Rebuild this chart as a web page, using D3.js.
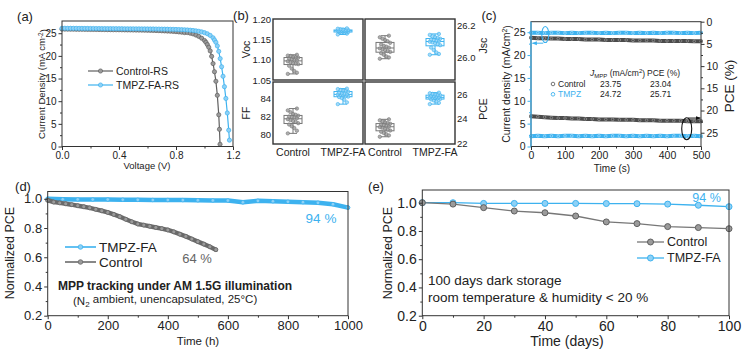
<!DOCTYPE html>
<html>
<head>
<meta charset="utf-8">
<script src="https://cdn.jsdelivr.net/npm/d3@7"></script>
<style>
  body { margin: 0; background: #fff; }
  svg text { font-family: "Liberation Sans", Arial, sans-serif; }
</style>
</head>
<body>
<svg id="fig" width="744" height="354"></svg>
<script>
// ---------- data ----------
// (a) J-V curves, [voltage V, current density mA/cm2]
const jvControl = [[0,25.90],[0.02,25.90],[0.04,25.89],[0.06,25.88],[0.08,25.88],[0.10,25.87],[0.12,25.86],[0.14,25.86],[0.16,25.85],[0.18,25.84],[0.20,25.83],[0.22,25.83],[0.24,25.82],[0.26,25.81],[0.28,25.80],[0.30,25.80],[0.32,25.79],[0.34,25.78],[0.36,25.77],[0.38,25.77],[0.40,25.76],[0.42,25.75],[0.44,25.74],[0.46,25.73],[0.48,25.72],[0.50,25.71],[0.52,25.70],[0.54,25.69],[0.56,25.68],[0.58,25.66],[0.60,25.65],[0.62,25.63],[0.64,25.61],[0.66,25.59],[0.68,25.57],[0.70,25.54],[0.72,25.51],[0.74,25.48],[0.76,25.44],[0.78,25.40],[0.80,25.35],[0.82,25.29],[0.84,25.22],[0.86,25.14],[0.88,25.15],[0.90,25.00],[0.92,24.85],[0.94,24.60],[0.96,24.30],[0.98,23.90],[1.00,23.40],[1.01,23.00],[1.02,22.50],[1.03,21.90],[1.04,21.10],[1.05,19.90],[1.06,18.30],[1.07,16.50],[1.08,14.40],[1.09,11.30],[1.10,7.00],[1.105,3.80],[1.109,0.50]];
const jvTmpz = [[0,26.10],[0.02,26.10],[0.04,26.09],[0.06,26.09],[0.08,26.08],[0.10,26.08],[0.12,26.07],[0.14,26.07],[0.16,26.06],[0.18,26.06],[0.20,26.05],[0.22,26.05],[0.24,26.04],[0.26,26.04],[0.28,26.03],[0.30,26.03],[0.32,26.02],[0.34,26.02],[0.36,26.01],[0.38,26.01],[0.40,26.00],[0.42,26.00],[0.44,25.99],[0.46,25.99],[0.48,25.98],[0.50,25.98],[0.52,25.97],[0.54,25.97],[0.56,25.96],[0.58,25.96],[0.60,25.95],[0.62,25.94],[0.64,25.94],[0.66,25.93],[0.68,25.92],[0.70,25.91],[0.72,25.90],[0.74,25.89],[0.76,25.87],[0.78,25.86],[0.80,25.84],[0.82,25.82],[0.84,25.79],[0.86,25.76],[0.88,25.72],[0.90,25.67],[0.92,25.61],[0.94,25.53],[0.96,25.43],[0.98,25.30],[1.00,25.12],[1.02,24.88],[1.04,24.52],[1.06,24.00],[1.07,23.50],[1.08,23.00],[1.09,22.20],[1.10,21.00],[1.11,19.40],[1.12,17.60],[1.13,15.50],[1.14,13.20],[1.15,10.60],[1.16,7.40],[1.17,3.60],[1.175,1.40]];

// (b) device statistics
const bGroups = ["Control", "TMPZ-FA"];
const vocControl = [1.065,1.068,1.072,1.078,1.085,1.089,1.090,1.091,1.094,1.096,1.098,1.099,1.101,1.103,1.105,1.106,1.107,1.109,1.110,1.112];
const vocTmpz = [1.162,1.164,1.166,1.167,1.168,1.168,1.169,1.170,1.170,1.171,1.171,1.171,1.172,1.172,1.173,1.173,1.174,1.175,1.176,1.177];
const jscControl = [25.99,25.998,26.005,26.015,26.025,26.033,26.038,26.045,26.05,26.055,26.06,26.066,26.072,26.08,26.09,26.1,26.108,26.116,26.125,26.135];
const jscTmpz = [26.015,26.02,26.03,26.045,26.06,26.075,26.082,26.088,26.093,26.097,26.1,26.104,26.108,26.112,26.116,26.12,26.126,26.132,26.14,26.146];
const ffControl = [80.1,80.4,80.7,80.9,81.1,81.25,81.4,81.5,81.6,81.7,81.8,81.9,81.95,82.0,82.1,82.2,82.3,82.5,82.7,82.9];
const ffTmpz = [83.4,83.6,83.9,84.1,84.2,84.25,84.3,84.4,84.45,84.5,84.5,84.55,84.6,84.7,84.8,84.9,84.95,85.0,85.1,85.15];
const pceControl = [22.54,22.65,22.75,22.85,22.95,23.05,23.12,23.2,23.28,23.33,23.38,23.44,23.5,23.55,23.6,23.65,23.72,23.8,23.88,23.96];
const pceTmpz = [25.2,25.3,25.42,25.5,25.58,25.62,25.66,25.7,25.72,25.74,25.76,25.8,25.84,25.88,25.92,25.95,25.99,26.03,26.08,26.13];

// (c) MPP tracking, time (s)
const mppTime = [0,20,40,60,80,100,120,140,160,180,200,220,240,260,280,300,320,340,360,380,400,420,440,460,480,500];
const mppJControl = [23.8,23.7,23.7,23.6,23.6,23.5,23.5,23.5,23.4,23.4,23.4,23.3,23.3,23.3,23.3,23.2,23.2,23.2,23.2,23.1,23.1,23.1,23.1,23.1,23.0,23.0];
const mppJTmpz = [24.9,24.9,24.8,24.9,24.9,24.8,24.9,24.8,24.9,24.9,24.8,24.9,24.8,24.9,24.9,24.8,24.9,24.8,24.9,24.8,24.9,24.9,24.8,24.9,24.8,24.9];
const mppPceControl = [21.3,21.4,21.5,21.6,21.7,21.7,21.8,21.8,21.9,21.9,22.0,22.0,22.0,22.1,22.1,22.1,22.2,22.2,22.2,22.3,22.3,22.3,22.3,22.4,22.4,22.4];
const mppPceTmpz = [25.8,25.7,25.8,25.7,25.8,25.7,25.7,25.8,25.7,25.8,25.7,25.8,25.7,25.7,25.8,25.7,25.8,25.7,25.8,25.7,25.8,25.7,25.7,25.8,25.7,25.8];
const mppLegend = [["Control", "23.75", "23.04"], ["TMPZ", "24.72", "25.71"]];

// (d) long-term MPP tracking, [hours, normalized PCE]
const trackTmpz = [[0,1.0],[50,0.997],[100,0.996],[150,0.995],[200,0.995],[250,0.994],[300,0.993],[350,0.992],[400,0.992],[450,0.991],[500,0.99],[550,0.989],[600,0.988],[650,0.976],[700,0.986],[750,0.983],[800,0.98],[850,0.977],[900,0.973],[950,0.963],[1000,0.94]];
const trackControl = [[0,0.99],[20,0.978],[40,0.972],[60,0.966],[80,0.96],[100,0.953],[120,0.946],[140,0.938],[160,0.928],[180,0.918],[200,0.907],[220,0.893],[240,0.878],[260,0.86],[280,0.843],[300,0.828],[320,0.82],[340,0.812],[360,0.804],[380,0.796],[400,0.787],[420,0.774],[440,0.758],[460,0.743],[480,0.725],[500,0.707],[520,0.69],[540,0.672],[560,0.652]];

// (e) dark storage
const storageDays = [0,10,20,30,40,50,60,70,80,90,100];
const storageControl = [1.0,0.99,0.965,0.941,0.929,0.906,0.864,0.852,0.831,0.824,0.816];
const storageTmpz = [1.0,1.0,0.995,0.995,0.995,0.995,0.994,0.993,0.99,0.982,0.972];

// ---------- helpers ----------
const BLUE = "#3db2ef", BLUE_F = "#8ed1f6", GRAY = "#5f5f5f", GRAY_F = "#9b9b9b", INK = "#222", EDGE = "#333";
const svg = d3.select("#fig");

const defs = svg.append("defs");
[["arrBlue", BLUE], ["arrBlack", "#111"]].forEach(([id, c]) => {
  defs.append("marker").attr("id", id).attr("viewBox", "0 0 10 10").attr("refX", 9).attr("refY", 5)
    .attr("markerWidth", 5).attr("markerHeight", 5).attr("orient", "auto")
    .append("path").attr("d", "M0,1L10,5L0,9Z").attr("fill", c);
});

function frame(x, y, w) {
  const [x0, x1] = x.range(), yr = y.range();
  svg.append("rect").attr("x", x0).attr("y", Math.min(...yr))
    .attr("width", x1 - x0).attr("height", Math.abs(yr[1] - yr[0]))
    .attr("fill", "none").attr("stroke", EDGE).attr("stroke-width", w || 1);
}

function axis(kind, scale, at, major, minor, fmt, size, color, tick) {
  const make = { bottom: d3.axisBottom, left: d3.axisLeft, right: d3.axisRight }[kind];
  const tr = kind === "bottom" ? `translate(0,${at})` : `translate(${at},0)`;
  const col = color || EDGE;
  if (minor) {
    const m = svg.append("g").attr("transform", tr)
      .call(make(scale).tickValues(minor).tickSize(2).tickFormat(""));
    m.select(".domain").remove();
    m.selectAll("line").attr("stroke", col);
  }
  const g = svg.append("g").attr("transform", tr)
    .call(make(scale).tickValues(major).tickSize(tick === undefined ? 3.5 : tick).tickPadding(2).tickFormat(fmt));
  g.select(".domain").remove();
  g.selectAll("line").attr("stroke", col);
  g.selectAll("text").attr("fill", INK).style("font-size", size + "px")
    .style("font-family", '"Liberation Sans", Arial, sans-serif');
  return g;
}

function text(x, y, str, size, o = {}) {
  const t = svg.append("text").attr("x", x).attr("y", y).attr("dy", "0.35em")
    .attr("text-anchor", o.anchor || "middle").attr("fill", o.fill || INK)
    .style("font-size", size + "px");
  if (o.bold) t.style("font-weight", "bold");
  if (o.rotate) t.attr("transform", `rotate(${o.rotate},${x},${y})`);
  if (str !== null) t.text(str);
  return t;
}

function seriesLine(pts, x, y, color, width) {
  svg.append("path").datum(pts)
    .attr("d", d3.line().x(d => x(d[0])).y(d => y(d[1])))
    .attr("fill", "none").attr("stroke", color).attr("stroke-width", width)
    .attr("stroke-linejoin", "round").attr("stroke-linecap", "round");
}

function seriesDots(pts, x, y, fill, stroke, r, sw) {
  svg.append("g").selectAll("circle").data(pts).join("circle")
    .attr("cx", d => x(d[0])).attr("cy", d => y(d[1])).attr("r", r)
    .attr("fill", fill).attr("stroke", stroke).attr("stroke-width", sw || 0.8);
}

const zip = (a, b) => a.map((v, i) => [v, b[i]]);

// ---------- (a) J-V ----------
{
  const x = d3.scaleLinear().domain([0, 1.2]).range([62, 233]);
  const y = d3.scaleLinear().domain([0, 27.7]).range([146.5, 21]);
  seriesLine(jvControl, x, y, GRAY, 1.2);
  seriesDots(jvControl, x, y, GRAY_F, GRAY, 2.1, 0.7);
  seriesLine(jvTmpz, x, y, BLUE, 1.2);
  seriesDots(jvTmpz, x, y, BLUE_F, BLUE, 2.1, 0.7);
  frame(x, y);
  axis("bottom", x, 146.5, [0, 0.4, 0.8, 1.2], [0.2, 0.6, 1.0], d3.format(".1f"), 10);
  axis("left", y, 62, [0, 5, 10, 15, 20, 25], [2.5, 7.5, 12.5, 17.5, 22.5], d3.format("d"), 10);
  text(147, 165.5, "Voltage (V)", 9.5);
  const t = text(42, 84, null, 9.5, { rotate: -90 });
  t.append("tspan").text("Current Density (mA cm");
  t.append("tspan").attr("dy", "-0.4em").style("font-size", "6.5px").text("-2");
  t.append("tspan").attr("dy", "0.4em").text(")");
  text(25, 16, "(a)", 13);
  // legend
  [["Control-RS", GRAY, GRAY_F, 71], ["TMPZ-FA-RS", BLUE, BLUE_F, 85]].forEach(([name, c, f, ly]) => {
    svg.append("line").attr("x1", 88).attr("x2", 113).attr("y1", ly).attr("y2", ly).attr("stroke", c).attr("stroke-width", 1.2);
    svg.append("circle").attr("cx", 100.5).attr("cy", ly).attr("r", 2.1).attr("fill", f).attr("stroke", c).attr("stroke-width", 0.7);
    text(116, ly, name, 10.5, { anchor: "start" });
  });
}

// ---------- (b) box plots ----------
{
  const cols = [[273, 363], [365, 455]];
  const rows = [[80, 19], [144, 82]];
  const panels = [
    { c: 0, r: 0, dom: [1.05, 1.20], ticks: [1.05, 1.10, 1.15, 1.20], fmt: ".2f", name: "Voc", sets: [vocControl, vocTmpz] },
    { c: 1, r: 0, dom: [25.856, 26.24], ticks: [26.0, 26.2], fmt: ".1f", name: "Jsc", sets: [jscControl, jscTmpz] },
    { c: 0, r: 1, dom: [78.9, 85.9], ticks: [80, 82, 84], fmt: "d", name: "FF", sets: [ffControl, ffTmpz] },
    { c: 1, r: 1, dom: [21.95, 27.0], ticks: [22, 24, 26], fmt: "d", name: "PCE", sets: [pceControl, pceTmpz] }
  ];
  panels.forEach(p => {
    const x = d3.scalePoint().domain(bGroups).range(cols[p.c]).padding(0.4);
    const y = d3.scaleLinear().domain(p.dom).range(rows[p.r]);
    p.sets.forEach((vals, gi) => {
      const s = vals.slice().sort(d3.ascending);
      const cx = x(bGroups[gi]);
      const col = gi ? BLUE : "#777";
      const q1 = d3.quantile(s, 0.25), md = d3.quantile(s, 0.5), q3 = d3.quantile(s, 0.75);
      const g = svg.append("g").attr("stroke", col).attr("fill", "none").attr("stroke-width", 1);
      g.append("line").attr("x1", cx).attr("x2", cx).attr("y1", y(s[0])).attr("y2", y(q1));
      g.append("line").attr("x1", cx).attr("x2", cx).attr("y1", y(q3)).attr("y2", y(s[s.length - 1]));
      [s[0], s[s.length - 1]].forEach(v => g.append("line").attr("x1", cx - 4).attr("x2", cx + 4).attr("y1", y(v)).attr("y2", y(v)));
      g.append("rect").attr("x", cx - 9).attr("width", 18).attr("y", y(q3)).attr("height", y(q1) - y(q3));
      g.append("line").attr("x1", cx - 9).attr("x2", cx + 9).attr("y1", y(md)).attr("y2", y(md));
      svg.append("g").selectAll("circle").data(vals).join("circle")
        .attr("cx", (d, i) => cx + ((i * 7) % 9 - 4) * 1.3)
        .attr("cy", d => y(d)).attr("r", 1.7)
        .attr("fill", gi ? BLUE_F : GRAY_F).attr("fill-opacity", 0.8)
        .attr("stroke", col).attr("stroke-width", 0.6);
    });
    frame(x, y, 1.4);
    if (p.c === 0) {
      axis("left", y, cols[0][0], p.ticks, null, d3.format(p.fmt), 9.5, null, 0);
      text(246, (rows[p.r][0] + rows[p.r][1]) / 2, p.name, 10.5, { rotate: -90 });
    } else {
      axis("right", y, cols[1][1], p.ticks, null, d3.format(p.fmt), 9.5, null, 0);
      text(483, (rows[p.r][0] + rows[p.r][1]) / 2 - 4, p.name, 10.5, { rotate: -90 });
    }
    if (p.r === 1) bGroups.forEach(gname => text(x(gname), 152, gname, 10.5));
  });
  text(241, 15, "(b)", 13);
}

// ---------- (c) MPP tracking 500 s ----------
{
  const x = d3.scaleLinear().domain([0, 500]).range([531, 701]);
  const yL = d3.scaleLinear().domain([0, 27.3]).range([146.5, 21.7]);
  const yR = d3.scaleLinear().domain([0, 28.1]).range([21.7, 146.5]);
  const band = (vals, y, c, light) => {
    const pts = zip(mppTime, vals);
    seriesLine(pts, x, y, c, 4);
    seriesDots(pts, x, y, "none", light, 1.3, 0.6);
  };
  band(mppJControl, yL, "#4b4b4b", "#aaa");
  band(mppJTmpz, yL, BLUE, "#bfe6fb");
  band(mppPceControl, yR, "#4b4b4b", "#aaa");
  band(mppPceTmpz, yR, BLUE, "#bfe6fb");
  frame(x, yL);
  svg.append("line").attr("x1", 531).attr("x2", 531).attr("y1", 21.7).attr("y2", 146.5).attr("stroke", BLUE).attr("stroke-width", 1.2);
  axis("bottom", x, 146.5, [0, 100, 200, 300, 400, 500], [50, 150, 250, 350, 450], d3.format("d"), 10.5);
  axis("left", yL, 531, [0, 5, 10, 15, 20, 25], [2.5, 7.5, 12.5, 17.5, 22.5], d3.format("d"), 10.5, BLUE);
  axis("right", yR, 701, [0, 5, 10, 15, 20, 25], [2.5, 7.5, 12.5, 17.5, 22.5], d3.format("d"), 10.5);
  // ellipse + arrow markers
  svg.append("ellipse").attr("cx", x(42)).attr("cy", yL(24.5)).attr("rx", 3.5).attr("ry", 8)
    .attr("fill", "none").attr("stroke", BLUE).attr("stroke-width", 1.1);
  svg.append("line").attr("x1", x(36)).attr("x2", x(4)).attr("y1", yL(22.6)).attr("y2", yL(22.6))
    .attr("stroke", BLUE).attr("stroke-width", 1).attr("marker-end", "url(#arrBlue)");
  svg.append("ellipse").attr("cx", x(458)).attr("cy", yR(24.1)).attr("rx", 5).attr("ry", 11)
    .attr("fill", "none").attr("stroke", "#111").attr("stroke-width", 1.1);
  svg.append("line").attr("x1", x(462)).attr("x2", x(498)).attr("y1", yR(21.7)).attr("y2", yR(21.7))
    .attr("stroke", "#111").attr("stroke-width", 1).attr("marker-end", "url(#arrBlack)");
  // inline table
  const h = text(590, 73.3, null, 8.5, { anchor: "start" });
  h.append("tspan").style("font-style", "italic").text("J");
  h.append("tspan").attr("dy", "0.3em").style("font-size", "6px").text("MPP");
  h.append("tspan").attr("dy", "-0.3em").text(" (mA/cm");
  h.append("tspan").attr("dy", "-0.4em").style("font-size", "6px").text("2");
  h.append("tspan").attr("dy", "0.4em").text(")");
  text(647, 73.3, "PCE (%)", 8.5, { anchor: "start" });
  mppLegend.forEach(([name, j, pce], i) => {
    const ly = 84 + i * 10.3;
    const c = i ? BLUE : "#666";
    svg.append("circle").attr("cx", 553).attr("cy", ly).attr("r", 1.8).attr("fill", "none").attr("stroke", c).attr("stroke-width", 0.9);
    text(558, ly, name, 8.5, { anchor: "start", fill: i ? BLUE : INK });
    text(600, ly, j, 8.5, { anchor: "start" });
    text(650, ly, pce, 8.5, { anchor: "start" });
  });
  text(612, 168, "Time (s)", 10);
  const lt = text(506, 84, null, 10.5, { rotate: -90 });
  lt.append("tspan").text("Current density (mA/cm");
  lt.append("tspan").attr("dy", "-0.4em").style("font-size", "7px").text("2");
  lt.append("tspan").attr("dy", "0.4em").text(")");
  text(729, 86, "PCE (%)", 13.5, { rotate: -90 });
  text(489, 15, "(c)", 13);
}

// ---------- (d) 1000 h tracking ----------
{
  const x = d3.scaleLinear().domain([0, 1000]).range([47.7, 348]);
  const y = d3.scaleLinear().domain([0.2, 1.05]).range([315.7, 191.5]);
  seriesLine(trackTmpz, x, y, BLUE, 4.5);
  seriesDots(trackTmpz, x, y, BLUE_F, BLUE, 1.8, 0.7);
  seriesLine(trackControl, x, y, "#6a6a6a", 4.5);
  seriesDots(trackControl, x, y, GRAY_F, "#666", 2, 0.8);
  frame(x, y);
  axis("bottom", x, 315.7, [0, 200, 400, 600, 800, 1000], [100, 300, 500, 700, 900], d3.format("d"), 13);
  axis("left", y, 47.7, [0.2, 0.4, 0.6, 0.8, 1.0], [0.3, 0.5, 0.7, 0.9], d3.format(".1f"), 13);
  text(198, 341, "Time (h)", 11.5);
  text(10, 253, "Normalized PCE", 12.5, { rotate: -90 });
  text(23, 186, "(d)", 13);
  [["TMPZ-FA", BLUE, BLUE_F, 247], ["Control", "#6a6a6a", GRAY_F, 262]].forEach(([name, c, f, ly]) => {
    svg.append("line").attr("x1", 65).attr("x2", 96).attr("y1", ly).attr("y2", ly).attr("stroke", c).attr("stroke-width", 1.6);
    svg.append("circle").attr("cx", 80.5).attr("cy", ly).attr("r", 2.3).attr("fill", f).attr("stroke", c).attr("stroke-width", 0.8);
    text(99, ly, name, 13.5, { anchor: "start" });
  });
  text(321, 218.5, "94 %", 13.5, { fill: BLUE });
  text(197, 258.5, "64 %", 13, { fill: "#666" });
  text(58, 286, "MPP tracking under AM 1.5G illumination", 12, { anchor: "start", bold: true });
  const n = text(73, 300.5, null, 11.5, { anchor: "start" });
  n.append("tspan").text("(N");
  n.append("tspan").attr("dy", "0.3em").style("font-size", "8px").text("2");
  n.append("tspan").attr("dy", "-0.3em").text(" ambient, unencapsulated, 25°C)");
}

// ---------- (e) dark storage ----------
{
  const x = d3.scaleLinear().domain([0, 100]).range([422.3, 729]);
  const y = d3.scaleLinear().domain([0.2, 1.09]).range([315.7, 190]);
  const tm = zip(storageDays, storageTmpz), ct = zip(storageDays, storageControl);
  seriesLine(tm, x, y, BLUE, 1.3);
  seriesDots(tm, x, y, BLUE_F, BLUE, 3, 1);
  seriesLine(ct, x, y, "#777", 1.3);
  seriesDots(ct, x, y, GRAY_F, GRAY, 3, 1);
  frame(x, y);
  axis("bottom", x, 315.7, [0, 20, 40, 60, 80, 100], [10, 30, 50, 70, 90], d3.format("d"), 14);
  axis("left", y, 422.3, [0.2, 0.4, 0.6, 0.8, 1.0], [0.3, 0.5, 0.7, 0.9], d3.format(".1f"), 14);
  text(567, 341, "Time (days)", 14);
  text(388, 253, "Normalized PCE", 12.5, { rotate: -90 });
  text(376, 186, "(e)", 13);
  [["Control", "#777", GRAY_F, GRAY, 242], ["TMPZ-FA", BLUE, BLUE_F, BLUE, 258]].forEach(([name, c, f, s, ly]) => {
    svg.append("line").attr("x1", 637).attr("x2", 664).attr("y1", ly).attr("y2", ly).attr("stroke", c).attr("stroke-width", 1.3);
    svg.append("circle").attr("cx", 650.5).attr("cy", ly).attr("r", 3).attr("fill", f).attr("stroke", s).attr("stroke-width", 1);
    text(667, ly, name, 12.5, { anchor: "start" });
  });
  text(706.5, 197.5, "94 %", 12.5, { fill: BLUE });
  text(428, 280, "100 days dark storage", 13.5, { anchor: "start" });
  text(428, 297, "room temperature & humidity < 20 %", 13.5, { anchor: "start" });
}
</script>
</body>
</html>
